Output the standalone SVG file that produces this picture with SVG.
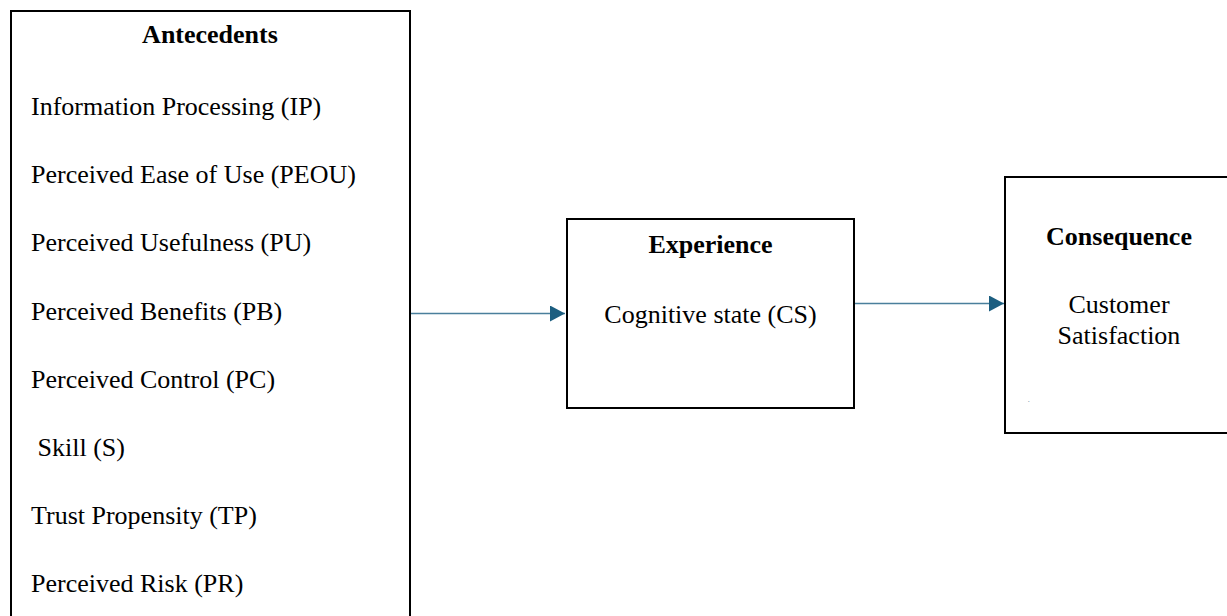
<svg xmlns="http://www.w3.org/2000/svg" width="1227" height="616" viewBox="0 0 1227 616">
<style>
.box{fill:#fff;stroke:#000;stroke-width:2}
.t{font-family:"Liberation Serif","Times New Roman",serif;font-size:26px;fill:#000}
.b{font-weight:bold}
.m{text-anchor:middle}
.c{stroke:#4a7f9c;stroke-width:1.6;fill:none}
</style>
<defs>
<marker id="ah" markerWidth="16" markerHeight="16" refX="15" refY="8" orient="auto" markerUnits="userSpaceOnUse">
<path d="M0,0 L15,8 L0,16 Z" fill="#1c5e80"/>
</marker>
</defs>
<g id="antecedents">
<rect class="box" x="11" y="11" width="399" height="620"/>
<text class="t b m" x="210" y="43">Antecedents</text>
<text class="t" x="31" y="115">Information Processing (IP)</text>
<text class="t" x="31" y="183">Perceived Ease of Use (PEOU)</text>
<text class="t" x="31" y="251">Perceived Usefulness (PU)</text>
<text class="t" x="31" y="320">Perceived Benefits (PB)</text>
<text class="t" x="31" y="388">Perceived Control (PC)</text>
<text class="t" x="31" y="456" xml:space="preserve"> Skill (S)</text>
<text class="t" x="31" y="524">Trust Propensity (TP)</text>
<text class="t" x="31" y="592">Perceived Risk (PR)</text>
</g>
<g id="experience">
<rect class="box" x="567" y="219" width="287" height="189"/>
<text class="t b m" x="710.5" y="253">Experience</text>
<text class="t m" x="710.5" y="323">Cognitive state (CS)</text>
</g>
<g id="consequence">
<rect class="box" x="1005" y="177" width="240" height="256"/>
<text class="t b m" x="1119" y="245">Consequence</text>
<text class="t m" x="1119" y="313">Customer</text>
<text class="t m" x="1119" y="344">Satisfaction</text>
<text class="t" x="1028" y="402" style="font-size:6px;fill:#1c5e80">.</text>
</g>
<g id="connectors">
<line class="c" x1="411" y1="313.5" x2="565" y2="313.5" marker-end="url(#ah)"/>
<line class="c" x1="855" y1="303.5" x2="1004" y2="303.5" marker-end="url(#ah)"/>
</g>
</svg>
